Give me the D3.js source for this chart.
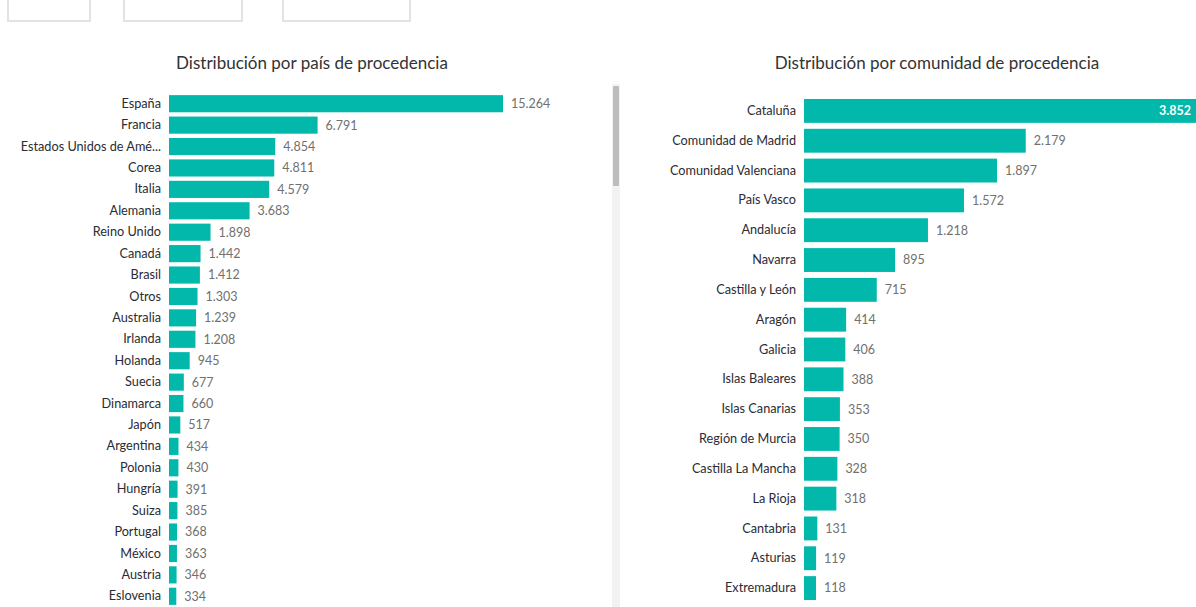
<!DOCTYPE html>
<html lang="es">
<head>
<meta charset="UTF-8">
<title>Distribución por procedencia</title>
<script src="https://d3js.org/d3.v7.min.js"></script>
<style>
  body { margin: 0; background: #fff; font-family: Lato, "Open Sans", sans-serif; }
  svg { display: block; }
</style>
</head>
<body>
<div id="chart"></div>
<script>
// países (visible part of the scrolling list)
const paises = ["España", "Francia", "Estados Unidos de Amé...", "Corea", "Italia", "Alemania",
  "Reino Unido", "Canadá", "Brasil", "Otros", "Australia", "Irlanda", "Holanda", "Suecia",
  "Dinamarca", "Japón", "Argentina", "Polonia", "Hungría", "Suiza", "Portugal", "México",
  "Austria", "Eslovenia"];
const paisValores = [15264, 6791, 4854, 4811, 4579, 3683, 1898, 1442, 1412, 1303, 1239, 1208,
  945, 677, 660, 517, 434, 430, 391, 385, 368, 363, 346, 334];

const comunidades = ["Cataluña", "Comunidad de Madrid", "Comunidad Valenciana", "País Vasco",
  "Andalucía", "Navarra", "Castilla y León", "Aragón", "Galicia", "Islas Baleares",
  "Islas Canarias", "Región de Murcia", "Castilla La Mancha", "La Rioja", "Cantabria",
  "Asturias", "Extremadura"];
const comunidadValores = [3852, 2179, 1897, 1572, 1218, 895, 715, 414, 406, 388, 353, 350,
  328, 318, 131, 119, 118];

const W = 1196, H = 607;
const teal = "#01b8aa";
const fmt = d3.formatLocale({decimal: ",", thousands: ".", grouping: [3], currency: ["", "€"]}).format(",d");

const svg = d3.select("#chart").append("svg")
  .attr("width", W).attr("height", H);

// slicer boxes at the top (cut off)
const slicers = [[8, 82], [124, 118], [283, 127]];
svg.selectAll(".slicer").data(slicers).enter().append("rect")
  .attr("class", "slicer")
  .attr("x", d => d[0]).attr("y", -10)
  .attr("width", d => d[1]).attr("height", 31)
  .attr("fill", "#fff").attr("stroke", "#e3e3e3").attr("stroke-width", 2);

function barChart(cfg) {
  const data = cfg.cats.map((c, i) => ({cat: c, val: cfg.vals[i]}));
  const y = d3.scaleBand().domain(cfg.cats).range(cfg.yRange).paddingInner(0.2).paddingOuter(0.1);
  const x = d3.scaleLinear().domain([0, d3.max(cfg.vals)]).range(cfg.xRange);

  svg.append("text")
    .attr("x", cfg.titleX).attr("y", 69)
    .attr("text-anchor", "middle")
    .attr("font-size", "17px")
    .attr("fill", "#333")
    .text(cfg.title);

  const g = svg.append("g");
  g.selectAll("rect").data(data).enter().append("rect")
    .attr("x", x(0))
    .attr("y", d => y(d.cat))
    .attr("width", d => x(d.val) - x(0))
    .attr("height", y.bandwidth())
    .attr("fill", teal);

  // category axis on the left, without line or ticks
  const axis = g.append("g")
    .attr("transform", `translate(${x(0) - 4},0)`)
    .call(d3.axisLeft(y).tickSize(0).tickPadding(4));
  axis.select(".domain").remove();
  axis.selectAll("text")
    .attr("font-family", "Lato, sans-serif")
    .attr("font-size", "12.7px")
    .attr("fill", "#2b2b33");

  const maxV = d3.max(cfg.vals);
  g.selectAll(".val").data(data).enter().append("text")
    .attr("class", "val")
    .attr("x", d => d.val === maxV && cfg.insideMax ? x(d.val) - 5 : x(d.val) + 8)
    .attr("y", d => y(d.cat) + y.bandwidth() / 2)
    .attr("dy", "0.35em")
    .attr("text-anchor", d => d.val === maxV && cfg.insideMax ? "end" : "start")
    .attr("font-size", "12.5px")
    .attr("font-weight", d => d.val === maxV && cfg.insideMax ? "bold" : "normal")
    .attr("fill", d => d.val === maxV && cfg.insideMax ? "#fff" : "#707070")
    .text(d => fmt(d.val));
}

barChart({
  title: "Distribución por país de procedencia",
  titleX: 312,
  cats: paises, vals: paisValores,
  yRange: [93, 607], xRange: [169, 503], insideMax: false
});

barChart({
  title: "Distribución por comunidad de procedencia",
  titleX: 937,
  cats: comunidades, vals: comunidadValores,
  yRange: [96, 603], xRange: [804, 1196], insideMax: true
});

// scrollbar of the country list
svg.append("rect").attr("x", 612).attr("y", 84).attr("width", 8).attr("height", H - 84)
  .attr("fill", "#f2f2f2");
svg.append("rect").attr("x", 613).attr("y", 86).attr("width", 6).attr("height", 100)
  .attr("rx", 1).attr("fill", "#bdbdbd");
</script>
</body>
</html>
